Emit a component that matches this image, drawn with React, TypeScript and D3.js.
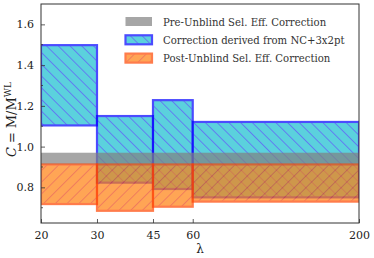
import React, { useRef, useEffect } from 'react'
import * as d3 from 'd3'

// bin edges in lambda
const binEdges = [20, 30, 45, 60, 200]
const xTickValues = [20, 30, 45, 60, 200]
const yMajorTicks = [0.8, 1.0, 1.2, 1.4, 1.6]
const yMinorTicks = [0.7, 0.9, 1.1, 1.3, 1.5]

// pre-unblind band (single band across all bins)
const preLow = 0.912
const preHigh = 0.97

// correction derived from NC+3x2pt
const ncLow = [1.104, 0.823, 0.792, 0.751]
const ncHigh = [1.498, 1.15, 1.228, 1.121]

// post-unblind correction
const postLow = [0.718, 0.685, 0.705, 0.73]
const postHigh = [0.912, 0.912, 0.912, 0.912]

const legendLabels = [
  'Pre-Unblind Sel. Eff. Correction',
  'Correction derived from NC+3x2pt',
  'Post-Unblind Sel. Eff. Correction'
]

const W = 374
const H = 258
const margin = { top: 4, right: 15, bottom: 35, left: 41 }
const font = 'DejaVu Serif'

export default function App() {
  const svgRef = useRef<SVGSVGElement>(null)

  useEffect(() => {
    if (!svgRef.current) return
    const svg = d3.select(svgRef.current)
    svg.selectAll('*').remove()

    const x = d3.scaleLog().domain([20, 200]).range([margin.left, W - margin.right])
    const y = d3.scaleLinear().domain([0.625, 1.70]).range([H - margin.bottom, margin.top])

    const defs = svg.append('defs')
    const hatch = (id: string, angle: number, color: string) => {
      const p = defs.append('pattern')
        .attr('id', id)
        .attr('patternUnits', 'userSpaceOnUse')
        .attr('width', 8.3)
        .attr('height', 8.3)
        .attr('patternTransform', `rotate(${angle})`)
      p.append('line')
        .attr('x1', 0.5).attr('x2', 0.5)
        .attr('y1', 0).attr('y2', 8.3)
        .attr('stroke', color)
        .attr('stroke-width', 0.9)
    }
    hatch('hatchBlue', -45, '#1f3cf0')
    hatch('hatchOrange', 45, '#e8401a')

    const clip = defs.append('clipPath').attr('id', 'plotClip')
    clip.append('rect')
      .attr('x', margin.left).attr('y', margin.top)
      .attr('width', W - margin.left - margin.right)
      .attr('height', H - margin.top - margin.bottom)

    const plot = svg.append('g').attr('clip-path', 'url(#plotClip)')

    const drawBox = (
      g: d3.Selection<SVGGElement, unknown, null, undefined>,
      x0: number, x1: number, lo: number, hi: number,
      fill: string, pattern: string | null, edge: string | null, edgeWidth: number
    ) => {
      const bx = x(x0), bw = x(x1) - x(x0)
      const by = y(hi), bh = y(lo) - y(hi)
      const grp = g.append('g').attr('opacity', 0.7)
      grp.append('rect').attr('x', bx).attr('y', by).attr('width', bw).attr('height', bh).attr('fill', fill)
      if (pattern) {
        grp.append('rect').attr('x', bx).attr('y', by).attr('width', bw).attr('height', bh).attr('fill', `url(#${pattern})`)
      }
      if (edge) {
        grp.append('rect').attr('x', bx).attr('y', by).attr('width', bw).attr('height', bh)
          .attr('fill', 'none').attr('stroke', edge).attr('stroke-width', edgeWidth)
      }
    }

    // NC+3x2pt boxes
    ncLow.forEach((lo, i) => {
      drawBox(plot, binEdges[i], binEdges[i + 1], lo, ncHigh[i], '#17becf', 'hatchBlue', '#0000ff', 2.2)
    })
    // pre-unblind band
    drawBox(plot, binEdges[0], binEdges[binEdges.length - 1], preLow, preHigh, '#808080', null, null, 0)
    // post-unblind boxes
    postLow.forEach((lo, i) => {
      drawBox(plot, binEdges[i], binEdges[i + 1], lo, postHigh[i], '#ff7f0e', 'hatchOrange', '#ff4500', 2.2)
    })

    // axes
    const xAxis = svg.append('g')
      .attr('transform', `translate(0,${H - margin.bottom})`)
      .call(d3.axisBottom(x).tickValues(xTickValues).tickFormat(d3.format('d')).tickSizeInner(-4).tickSizeOuter(0).tickPadding(8))
    const yAxis = svg.append('g')
      .attr('transform', `translate(${margin.left},0)`)
      .call(d3.axisLeft(y).tickValues(yMajorTicks).tickFormat(d3.format('.1f')).tickSizeInner(-4).tickSizeOuter(0).tickPadding(7))
    svg.append('g')
      .selectAll('line')
      .data(yMinorTicks)
      .join('line')
      .attr('x1', margin.left).attr('x2', margin.left + 2)
      .attr('y1', d => y(d)).attr('y2', d => y(d))
      .attr('stroke', '#333').attr('stroke-width', 0.8)

    ;[xAxis, yAxis].forEach(a => {
      a.selectAll('text').attr('font-family', font).attr('font-size', 11).attr('fill', '#222')
      a.selectAll('.tick line').attr('stroke', '#333').attr('stroke-width', 0.8)
      a.select('.domain').remove()
    })

    // frame
    svg.append('rect')
      .attr('x', margin.left).attr('y', margin.top)
      .attr('width', W - margin.left - margin.right)
      .attr('height', H - margin.top - margin.bottom)
      .attr('fill', 'none').attr('stroke', '#333').attr('stroke-width', 1)

    // axis labels
    svg.append('text')
      .attr('x', (x(20) + x(200)) / 2)
      .attr('y', 253)
      .attr('text-anchor', 'middle')
      .attr('font-family', font).attr('font-size', 12).attr('fill', '#222')
      .text('λ')

    const yl = svg.append('text')
      .attr('transform', `translate(16,${(margin.top + H - margin.bottom) / 2 + 6}) rotate(-90)`)
      .attr('text-anchor', 'middle')
      .attr('font-family', font).attr('font-size', 13).attr('fill', '#222')
    yl.append('tspan').attr('font-style', 'italic').text('C')
    yl.append('tspan').attr('dx', 4).text('=')
    yl.append('tspan').attr('dx', 4).text('M/M')
    yl.append('tspan').attr('dy', -5).attr('font-size', 9).text('WL')

    // legend
    const legend = svg.append('g')
    const patchStyles = [
      { fill: '#808080', pattern: null, edge: null },
      { fill: '#17becf', pattern: 'hatchBlue', edge: '#0000ff' },
      { fill: '#ff7f0e', pattern: 'hatchOrange', edge: '#ff4500' }
    ]
    legendLabels.forEach((label, i) => {
      const cy = 21.5 + i * 18.3
      const g = legend.append('g').attr('opacity', 0.7)
      const ps = patchStyles[i]
      g.append('rect').attr('x', 125.5).attr('y', cy - 4.5).attr('width', 26.5).attr('height', 9).attr('fill', ps.fill)
      if (ps.pattern) g.append('rect').attr('x', 125.5).attr('y', cy - 4.5).attr('width', 26.5).attr('height', 9).attr('fill', `url(#${ps.pattern})`)
      if (ps.edge) g.append('rect').attr('x', 125.5).attr('y', cy - 4.5).attr('width', 26.5).attr('height', 9)
        .attr('fill', 'none').attr('stroke', ps.edge).attr('stroke-width', 2.2)
      legend.append('text')
        .attr('x', 163).attr('y', cy + 4)
        .attr('font-family', font).attr('font-size', 10.1).attr('fill', '#333')
        .text(label)
    })
  }, [])

  return (
    <svg
      ref={svgRef}
      width={W}
      height={H}
      style={{ position: 'absolute', left: 0, top: 0, background: '#fff' }}
    />
  )
}
